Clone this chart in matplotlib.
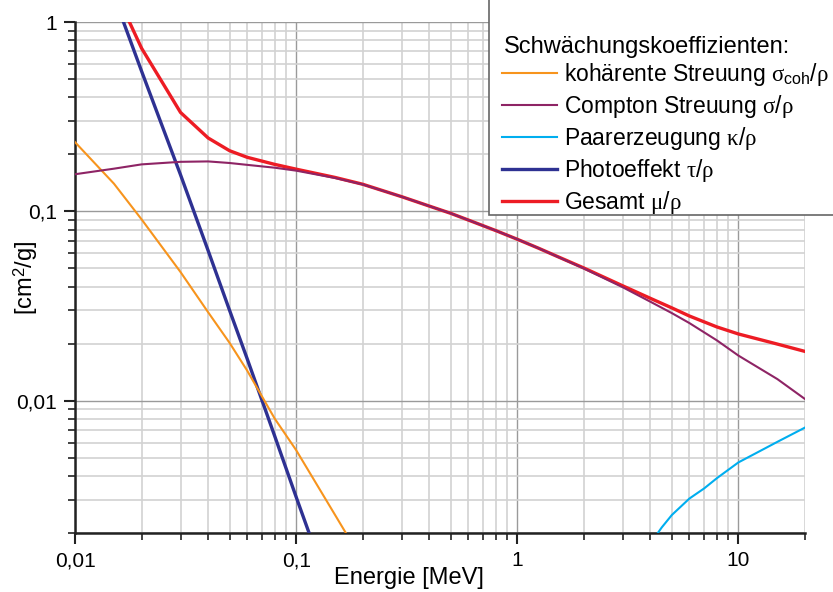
import matplotlib
matplotlib.use('Agg')
import matplotlib.pyplot as plt
from matplotlib.patches import Rectangle
from matplotlib.ticker import LogLocator, FixedLocator, FuncFormatter, NullFormatter

plt.rcParams['font.family'] = ['Liberation Sans', 'DejaVu Sans']
plt.rcParams['mathtext.fontset'] = 'custom'
plt.rcParams['mathtext.rm'] = 'Liberation Sans'
plt.rcParams['mathtext.it'] = 'Liberation Serif'
plt.rcParams['mathtext.bf'] = 'Liberation Sans:bold'

# energies (MeV) and mass attenuation coefficients (cm^2/g)
energy = [0.01, 0.015, 0.02, 0.03, 0.04, 0.05, 0.06, 0.08, 0.1, 0.15, 0.2, 0.3, 0.4,
          0.5, 0.6, 0.8, 1, 1.25, 1.5, 2, 3, 4, 5, 6, 8, 10, 15, 20]

compton = [0.157, 0.168, 0.177, 0.1826, 0.1835, 0.180, 0.176, 0.170, 0.164, 0.150,
           0.1387, 0.1195, 0.1066, 0.0976, 0.090, 0.0791, 0.0712, 0.0638, 0.058, 0.0499,
           0.0397, 0.0333, 0.029, 0.0257, 0.0208, 0.0173, 0.0130, 0.0102]

e_tot = [0.015, 0.02, 0.03, 0.04, 0.05, 0.06, 0.08, 0.1, 0.15, 0.2, 0.3, 0.4,
         0.5, 0.6, 0.8, 1, 1.25, 1.5, 2, 3, 4, 5, 6, 8, 10, 15, 20]
total = [1.50, 0.727, 0.333, 0.244, 0.209, 0.193, 0.177, 0.167, 0.151, 0.139,
         0.1195, 0.1066, 0.0976, 0.0900, 0.0791, 0.0712, 0.0638, 0.0581, 0.0502,
         0.0404, 0.0347, 0.0309, 0.0280, 0.0245, 0.0225, 0.0199, 0.0182]

e_coh = [0.01, 0.015, 0.02, 0.03, 0.04, 0.05, 0.06, 0.08, 0.1, 0.15, 0.2]
coherent = [0.232, 0.140, 0.0907, 0.0478, 0.0293, 0.0202, 0.01444, 0.00804, 0.00548,
            0.00249, 0.00142]

e_photo = [0.015, 0.02, 0.03, 0.04, 0.05, 0.06, 0.08, 0.1, 0.15]
photo = [1.37, 0.55, 0.156, 0.062, 0.030, 0.0167, 0.0065, 0.0031, 0.00083]

e_pair = [4, 4.5, 5, 6, 7, 8, 10, 12, 15, 20]
pair = [0.00176, 0.00214, 0.00249, 0.00304, 0.00344, 0.00390, 0.00472, 0.00528,
        0.00606, 0.00721]

fig = plt.figure(figsize=(8.33, 5.92), dpi=100)
ax = fig.add_axes([75/833, 59/592, 730/833, 511/592])

l_tot, = ax.plot(e_tot, total, color='#ED1C24', lw=2.4, label='Gesamt $\\mu/\\rho$', zorder=3)
l_pho, = ax.plot(e_photo, photo, color='#2E3192', lw=2.4, label='Photoeffekt $\\tau/\\rho$', zorder=3)
l_coh, = ax.plot(e_coh, coherent, color='#F7941D', lw=1.5,
                 label='kohärente Streuung $\\sigma_{\\mathrm{coh}}/\\rho$', zorder=3)
l_pair, = ax.plot(e_pair, pair, color='#00AEEF', lw=1.5, label='Paarerzeugung $\\kappa/\\rho$', zorder=3)
l_com, = ax.plot(energy, compton, color='#8E2465', lw=1.5, label='Compton Streuung $\\sigma/\\rho$', zorder=4)

ax.set_xscale('log')
ax.set_yscale('log')
ax.set_xlim(0.01, 20)
ax.set_ylim(0.002, 1)

def komma(v, pos):
    return ('%g' % v).replace('.', ',')

ax.xaxis.set_major_locator(FixedLocator([0.01, 0.1, 1, 10]))
ax.yaxis.set_major_locator(FixedLocator([0.01, 0.1, 1]))
ax.xaxis.set_major_formatter(FuncFormatter(komma))
ax.yaxis.set_major_formatter(FuncFormatter(komma))
ax.xaxis.set_minor_locator(LogLocator(base=10, subs=range(2, 10), numticks=20))
ax.yaxis.set_minor_locator(LogLocator(base=10, subs=range(2, 10), numticks=20))
ax.xaxis.set_minor_formatter(NullFormatter())
ax.yaxis.set_minor_formatter(NullFormatter())

ax.grid(which='major', color='#9a9a9a', lw=1.0, zorder=1)
ax.grid(which='minor', color='#d2d2d2', lw=1.2, zorder=1)
ax.set_axisbelow(True)

for s in ['top', 'right']:
    ax.spines[s].set_visible(False)
for s in ['left', 'bottom']:
    ax.spines[s].set_linewidth(1.8)
    ax.spines[s].set_color('#222222')
ax.tick_params(which='major', length=8, width=1.5, labelsize=15, color='#222222', pad=5)
ax.tick_params(which='minor', length=5, width=1.2, color='#222222')

ax.set_xlabel('Energie [MeV]', fontsize=17)
ax.xaxis.set_label_coords((409 - 75) / 730, -0.066)
ax.set_ylabel('[cm$^2$/g]', fontsize=17)
ax.yaxis.set_label_coords(-0.048, 0.5)

# legend box, running off the top and right edge of the figure
box = Rectangle((489/833, 1 - 215/592), 360/833, 230/592, transform=fig.transFigure,
                facecolor='white', edgecolor='#666666', lw=1.2, zorder=4)
fig.add_artist(box)
fig.text(504/833, 1 - 47/592, 'Schwächungskoeffizienten:', fontsize=17,
         ha='left', va='center', zorder=5)

leg = fig.legend(handles=[l_coh, l_com, l_pair, l_pho, l_tot], fontsize=16.5,
                 loc='upper left', bbox_to_anchor=(502/833, 1 - 61/592),
                 frameon=False, handlelength=2.4, handletextpad=0.3,
                 labelspacing=0.22, borderpad=0, borderaxespad=0)
leg.set_zorder(5)

fig.savefig('out.png', dpi=100)
